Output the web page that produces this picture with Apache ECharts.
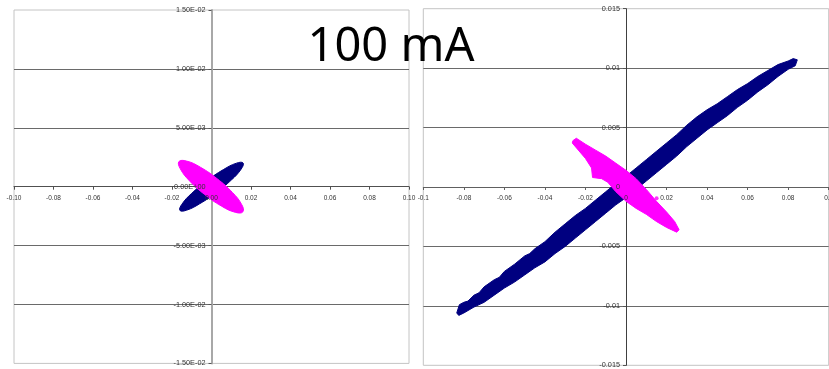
<!DOCTYPE html>
<html><head><meta charset="utf-8">
<script src="https://cdn.jsdelivr.net/npm/echarts@6/dist/echarts.min.js"></script>
<style>html,body{margin:0;padding:0;background:#fff}#c{width:829px;height:369px}</style>
</head><body><div id="c"></div>
<script>
const titleText = '100 mA';
const leftXLabels = ['-0.10','-0.08','-0.06','-0.04','-0.02','0.00','0.02','0.04','0.06','0.08','0.10'];
const leftYLabels = ['-1.50E-02','-1.00E-02','-5.00E-03','0.00E+00','5.00E-03','1.00E-02','1.50E-02'];
const rightXLabels = ['-0.1','-0.08','-0.06','-0.04','-0.02','0','0.02','0.04','0.06','0.08','0.1'];
const rightYLabels = ['-0.015','-0.01','-0.005','0','0.005','0.01','0.015'];

// outlines of the point clouds (x, y)
const leftBlue = [[0.0160,0.00201],[0.0150,0.00149],[0.0100,0.00056],[0.0023,-0.00051],[-0.0060,-0.00145],[-0.0127,-0.00200],[-0.0160,-0.00201],[-0.0150,-0.00149],[-0.0100,-0.00056],[-0.0023,0.00051],[0.0060,0.00145],[0.0127,0.00200]];
const leftMagenta = [[0.0159,-0.00213],[0.0122,-0.00218],[0.0051,-0.00165],[-0.0034,-0.00067],[-0.0111,0.00049],[-0.0158,0.00152],[-0.0165,0.00213],[-0.0127,0.00218],[-0.0056,0.00165],[0.0029,0.00067],[0.0106,-0.00049],[0.0153,-0.00152]];
const rightBlue = [[-0.0835,-0.0106],[-0.0822,-0.0099],[-0.080,-0.0097],[-0.078,-0.0096],[-0.075,-0.0091],[-0.0725,-0.0089],[-0.070,-0.0084],[-0.065,-0.0078],[-0.0625,-0.0076],[-0.060,-0.0071],[-0.055,-0.0065],[-0.050,-0.0058],[-0.0475,-0.0056],[-0.045,-0.0052],[-0.040,-0.0046],[-0.035,-0.0038],[-0.030,-0.0031],[-0.025,-0.0024],[-0.020,-0.0018],[-0.015,-0.0011],[-0.010,-0.0004],[-0.005,0.0003],[0,0.0009],[0.005,0.0016],[0.010,0.0023],[0.015,0.0030],[0.020,0.0037],[0.025,0.0044],[0.030,0.0052],[0.035,0.0059],[0.040,0.0065],[0.045,0.0070],[0.050,0.0076],[0.055,0.0082],[0.060,0.0087],[0.065,0.0093],[0.070,0.0098],[0.075,0.0103],[0.080,0.0106],[0.0825,0.0108],[0.0845,0.0107],[0.0835,0.0102],[0.080,0.0099],[0.075,0.0093],[0.070,0.0086],[0.065,0.0080],[0.060,0.0073],[0.055,0.0067],[0.050,0.0060],[0.045,0.0054],[0.040,0.0048],[0.035,0.0041],[0.030,0.0034],[0.025,0.0026],[0.020,0.0019],[0.015,0.0012],[0.010,0.0005],[0.005,-0.0002],[0,-0.0009],[-0.005,-0.0015],[-0.010,-0.0022],[-0.015,-0.0029],[-0.020,-0.0036],[-0.025,-0.0043],[-0.030,-0.0050],[-0.035,-0.0056],[-0.040,-0.0063],[-0.045,-0.0068],[-0.050,-0.0074],[-0.055,-0.0080],[-0.060,-0.0085],[-0.065,-0.0091],[-0.070,-0.0097],[-0.075,-0.0101],[-0.080,-0.0106],[-0.0825,-0.0108]];
const rightMagenta = [[-0.0262,0.0039],[-0.0245,0.0041],[-0.020,0.0036],[-0.015,0.0031],[-0.010,0.0026],[-0.005,0.0020],[0,0.0014],[0.005,0.0007],[0.010,-0.0002],[0.015,-0.0012],[0.020,-0.0021],[0.024,-0.0029],[0.0262,-0.0036],[0.025,-0.0038],[0.020,-0.0034],[0.015,-0.0029],[0.010,-0.0023],[0.005,-0.0018],[0,-0.0012],[-0.005,-0.0004],[-0.009,0.0004],[-0.012,0.0007],[-0.0165,0.0008],[-0.017,0.0016],[-0.020,0.0024],[-0.024,0.0032],[-0.0265,0.0037]];
const rightMagentaStray = [[0.0151,-0.00095]];

const BLUE = '#000080', MAGENTA = '#ff00ff';
const LABEL_FONT = '"Liberation Sans", Arial, sans-serif';

function lookup(labels, min, step) {
  return v => labels[Math.round((v - min) / step)] || '';
}
function mainX(grid, lineColor) {
  return { type:'value', gridIndex:grid, min:-0.1, max:0.1, interval:0.02, position:'bottom',
    axisLine:{ show:true, onZero:true, lineStyle:{ color:lineColor, width:1 } },
    axisTick:{ show:true, length:3, lineStyle:{ color:lineColor } },
    axisLabel:{ show:false }, splitLine:{ show:false } };
}
// label-only axis drawn above the marks, shifted onto the zero line
function labelX(grid, offset, labels) {
  return { type:'value', gridIndex:grid, min:-0.1, max:0.1, interval:0.02, position:'bottom', z:10, offset:offset,
    axisLine:{ show:false, onZero:false }, axisTick:{ show:false }, splitLine:{ show:false },
    axisLabel:{ show:true, margin:8, fontSize:6.5, color:'#333', fontFamily:LABEL_FONT,
      formatter: lookup(labels, -0.1, 0.02) } };
}
function mainY(grid, lineColor, lineWidth) {
  return { type:'value', gridIndex:grid, min:-0.015, max:0.015, interval:0.005, position:'left',
    axisLine:{ show:true, onZero:true, lineStyle:{ color:lineColor, width:lineWidth } },
    axisTick:{ show:true, length:3, lineStyle:{ color:'#555' } },
    axisLabel:{ show:false },
    splitLine:{ show:true, showMinLine:false, showMaxLine:false, lineStyle:{ color:'#6a6a6a', width:1 } } };
}
function labelY(grid, offset, labels) {
  return { type:'value', gridIndex:grid, min:-0.015, max:0.015, interval:0.005, position:'left', z:10, offset:offset,
    axisLine:{ show:false, onZero:false }, axisTick:{ show:false }, splitLine:{ show:false },
    axisLabel:{ show:true, margin:6, fontSize:7.3, color:'#333', fontFamily:LABEL_FONT,
      formatter: lookup(labels, -0.015, 0.005) } };
}
function polySeries(xi, yi, pts, color, smooth) {
  return { type:'custom', xAxisIndex:xi, yAxisIndex:yi, z:3, silent:true,
    data: pts, encode:{ x:0, y:1 },
    renderItem: function (params, api) {
      if (params.dataIndex !== 0) return null;
      const points = pts.map(p => api.coord(p));
      return { type:'polygon', shape:{ points: points, smooth: smooth }, style:{ fill: color, stroke: color, lineWidth: 1 } };
    } };
}

const gridCommon = { show:true, borderColor:'#c4c4c4', borderWidth:1, backgroundColor:'transparent',
  containLabel:false, outerBoundsMode:'none' };
const G0 = { left:14, top:10, width:395, height:353.4 };
const G1 = { left:423.3, top:8.7, width:405.4, height:356.6 };

const chart = echarts.init(document.getElementById('c'), null, { renderer:'canvas' });
chart.setOption({
  animation:false,
  backgroundColor:'#fff',
  grid:[ Object.assign({}, G0, gridCommon), Object.assign({}, G1, gridCommon) ],
  xAxis:[ mainX(0, '#505050'), labelX(0, -G0.height / 2, leftXLabels),
          mainX(1, '#606060'), labelX(1, -G1.height / 2, rightXLabels) ],
  yAxis:[ mainY(0, '#a8a8a8', 2), labelY(0, -G0.width / 2, leftYLabels),
          mainY(1, '#404040', 1), labelY(1, -G1.width / 2, rightYLabels) ],
  graphic:[{ type:'text', x:391, y:48, z:100,
    style:{ text:titleText, font:'47px "Comic Sans MS", "Noto Sans", sans-serif', fill:'#000', align:'center', verticalAlign:'middle' } }],
  series:[
    polySeries(0, 0, leftBlue, BLUE, 0.45),
    polySeries(0, 0, leftMagenta, MAGENTA, 0.45),
    polySeries(2, 2, rightBlue, BLUE, 0),
    polySeries(2, 2, rightMagenta, MAGENTA, 0),
    { type:'scatter', xAxisIndex:2, yAxisIndex:2, z:3, symbol:'circle', symbolSize:4, silent:true,
      itemStyle:{ color:MAGENTA }, data: rightMagentaStray }
  ]
});
</script></body></html>
